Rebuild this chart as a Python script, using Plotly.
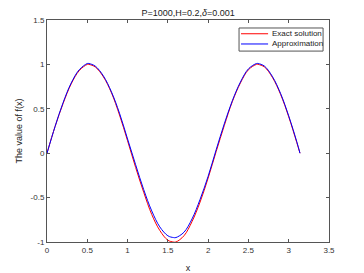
import plotly.graph_objects as go

x_exact = [0, 0.1, 0.2, 0.3, 0.4, 0.5, 0.52, 0.6, 0.7, 0.8, 0.9, 1.0, 1.1, 1.2, 1.3, 1.4, 1.5, 1.57, 1.6, 1.7, 1.8, 1.9, 2.0, 2.1, 2.2, 2.3, 2.4, 2.5, 2.6, 2.62, 2.7, 2.8, 2.9, 3.0, 3.1, 3.14]
y_exact = [0, 0.30, 0.56, 0.78, 0.93, 1.00, 1.00, 0.97, 0.86, 0.68, 0.43, 0.14, -0.16, -0.44, -0.69, -0.87, -0.98, -1.00, -1.00, -0.93, -0.77, -0.55, -0.28, 0.02, 0.31, 0.58, 0.79, 0.94, 1.00, 1.00, 0.97, 0.85, 0.66, 0.41, 0.12, 0.00]
y_approx = [0, 0.30, 0.57, 0.79, 0.94, 1.01, 1.01, 0.98, 0.87, 0.69, 0.45, 0.16, -0.13, -0.41, -0.65, -0.83, -0.93, -0.95, -0.95, -0.89, -0.74, -0.52, -0.26, 0.04, 0.33, 0.59, 0.80, 0.95, 1.01, 1.01, 0.98, 0.86, 0.67, 0.42, 0.13, 0.00]

x_ticks = [0, 0.5, 1, 1.5, 2, 2.5, 3, 3.5]
y_ticks = [-1, -0.5, 0, 0.5, 1, 1.5]
series_names = ["Exact solution", "Approximation"]
series_colors = ["#ff0000", "#0000ff"]

fig = go.Figure()
for y, name, color in zip([y_exact, y_approx], series_names, series_colors):
    fig.add_trace(go.Scatter(x=x_exact, y=y, mode="lines", name=name,
                             line=dict(color=color, width=1, shape="spline")))

axis_common = dict(showgrid=False, zeroline=False, showline=True, linecolor="#555555",
                   linewidth=1, mirror="ticks", ticks="inside", ticklen=3, tickcolor="#555555",
                   automargin=False, tickfont=dict(size=8, color="#333333"))

# manual MATLAB-style legend
shapes = [dict(type="rect", xref="paper", yref="paper", x0=0.681, x1=0.979, y0=0.860, y1=0.964,
               line=dict(color="#555555", width=1), fillcolor="white", layer="above")]
annotations = []
row_y = [0.938, 0.892]
for ry, name, color in zip(row_y, series_names, series_colors):
    shapes.append(dict(type="line", xref="paper", yref="paper", x0=0.688, x1=0.784, y0=ry, y1=ry,
                       line=dict(color=color, width=1), layer="above"))
    annotations.append(dict(xref="paper", yref="paper", x=0.791, y=ry, xanchor="left", yanchor="middle",
                            text=name, showarrow=False, font=dict(size=8, color="#222222")))

fig.update_layout(
    width=356, height=265,
    margin=dict(l=39, r=35, t=12, b=31),
    paper_bgcolor="white", plot_bgcolor="white",
    font=dict(family="Liberation Sans, Arial, sans-serif", color="#222222"),
    title=dict(text="P=1000,H=0.2,<i>δ</i>=0.001", x=0.506, xanchor="center",
               y=0.981, yanchor="middle", font=dict(size=9, color="#222222")),
    xaxis=dict(range=[0, 3.5], tickvals=x_ticks, ticktext=[str(v) for v in x_ticks],
               title=dict(text="x", font=dict(size=9), standoff=11), **axis_common),
    yaxis=dict(range=[-1, 1.5], tickvals=y_ticks, ticktext=[str(v) for v in y_ticks],
               title=dict(text="The value of f(x)", font=dict(size=9), standoff=6), **axis_common),
    shapes=shapes, annotations=annotations,
    showlegend=False,
)

fig.write_html("out.html")
